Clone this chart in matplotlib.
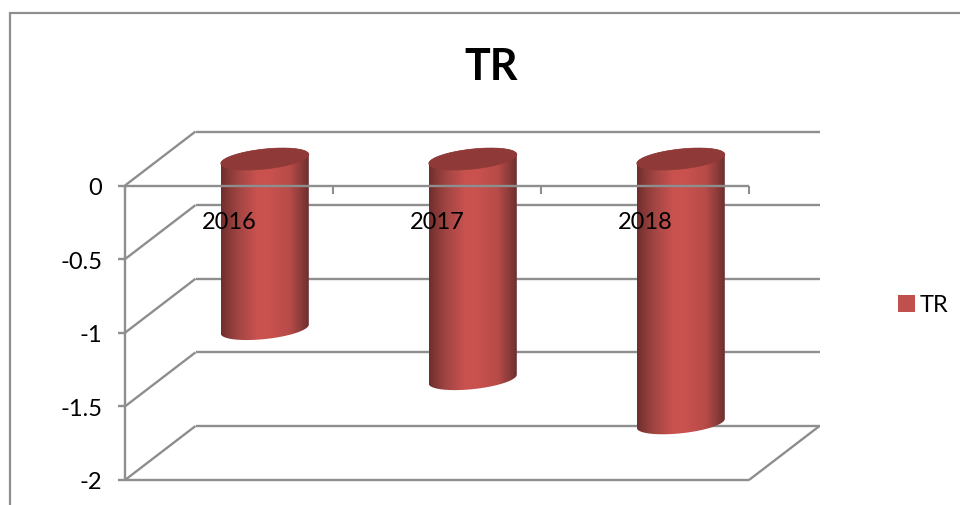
import numpy as np
import matplotlib
matplotlib.use("Agg")
import matplotlib.pyplot as plt
from matplotlib.colors import LinearSegmentedColormap
from matplotlib.patches import PathPatch, Patch
from matplotlib.path import Path
from matplotlib.transforms import Affine2D, IdentityTransform

years = ["2016", "2017", "2018"]
tr_values = [-1.155, -1.495, -1.795]
y_ticks = [0, -0.5, -1, -1.5, -2]
y_tick_labels = ["0", "-0.5", "-1", "-1.5", "-2"]
series_name = "TR"

W, H = 960, 506
GRID = "#8e8e8e"
plt.rcParams["font.family"] = ["Lato", "DejaVu Sans"]

fig = plt.figure(figsize=(W / 100, H / 100), dpi=100, facecolor="white")
L, R, T, B = 125, 749, 186.5, 481
ax = fig.add_axes([L / W, 1 - B / H, (R - L) / W, (B - T) / H])
ax.set_xlim(-0.5, 2.5)
ax.set_ylim(-2, 0)
ax.axis("off")

back = ax.transData + Affine2D().translate(70.5, 54)
mid = ax.transData + Affine2D().translate(35.8, 26.5)
ident = IdentityTransform()

# frame of the chart area
fig.add_artist(plt.Line2D([9.5 / W, 9.5 / W, 1], [0, 1 - 13.5 / H, 1 - 13.5 / H],
                          color=GRID, lw=1.6, solid_joinstyle="miter"))

kw = dict(color=GRID, lw=1.7, clip_on=False, solid_capstyle="butt")
for v in y_ticks:
    # back wall
    ax.plot([-0.5, 2.5], [v, v], transform=back, zorder=1, **kw)
    # side wall diagonal
    x0, y0 = ax.transData.transform((-0.5, v))
    ax.plot([x0, x0 + 70.5], [y0, y0 + 54], transform=ident, zorder=1, **kw)
    # left tick
    ax.plot([x0 - 7, x0], [y0, y0], transform=ident, zorder=1, **kw)

# floor
x1, y1 = ax.transData.transform((2.5, -2))
ax.plot([x1, x1 + 70.5], [y1, y1 + 54], transform=ident, zorder=1, **kw)
ax.plot([-0.5, 2.5], [-2, -2], zorder=1, **kw)
# vertical axis
ax.plot([-0.5, -0.5], [-2, 0], zorder=1, **kw)

# cylinders
stops = [(0, "#6e2e2c"), (0.08, "#853836"), (0.2, "#a34543"), (0.42, "#ca5350"),
         (0.55, "#c9524f"), (0.78, "#b84b48"), (0.92, "#8a3b39"), (1, "#6d2e2c")]
cmap = LinearSegmentedColormap.from_list("cyl", stops)
grad = np.linspace(0, 1, 256).reshape(1, -1)
half_w = 0.2115
a, b, s = 44, 10, 4.5


def ell(cx, cy, t):
    return np.c_[cx + a * np.cos(t), cy + b * np.sin(t) + s * np.cos(t)]


for i, v in enumerate(tr_values):
    cx, top = mid.transform((i, 0))
    _, bot = mid.transform((i, v))
    t_top = np.linspace(np.pi, 0, 60)
    t_bot = np.linspace(0, -np.pi, 60)
    body = np.r_[ell(cx, top, t_top), ell(cx, bot, t_bot)]
    path = Path(np.r_[body, body[:1]], closed=True)
    im = ax.imshow(grad, cmap=cmap, aspect="auto", zorder=2,
                   extent=(i - half_w, i + half_w, v - 0.2, 0.2),
                   transform=mid, interpolation="bilinear")
    im.set_clip_box(fig.bbox)
    im.set_clip_path(path, transform=ident)
    cap = Path(ell(cx, top, np.linspace(0, 2 * np.pi, 120)), closed=True)
    ax.add_patch(PathPatch(cap, transform=ident, facecolor="#8f3a38",
                           edgecolor="#8f3a38", lw=0.5, zorder=3, clip_on=False))

ax.set_xlim(-0.5, 2.5)
ax.set_ylim(-2, 0)

# front x axis line drawn over the cylinders
ax.plot([-0.5, 2.5], [0, 0], zorder=4, **kw)
for i in range(len(years) + 1):
    x0, y0 = ax.transData.transform((i - 0.5, 0))
    ax.plot([x0, x0], [y0, y0 - 8], transform=ident, zorder=4,
            color=GRID, lw=1.5, clip_on=False, solid_capstyle="butt")

for v, lab in zip(y_ticks, y_tick_labels):
    ax.annotate(lab, (-0.5, v), xytext=(-23, -2), textcoords="offset pixels",
                ha="right", va="center", fontsize=17, color="black", zorder=5,
                annotation_clip=False)
for i, lab in enumerate(years):
    ax.annotate(lab, (i, 0), xytext=(0, -36), textcoords="offset pixels",
                ha="center", va="center", fontsize=17, color="black", zorder=5,
                annotation_clip=False)

fig.text(491 / W, 1 - 67 / H, series_name, ha="center", va="center",
         fontsize=31, fontweight="bold", color="black")

fig.legend(handles=[Patch(facecolor="#c0504d", edgecolor="none", label=series_name)],
           loc="center left", bbox_to_anchor=(890.5 / W, 1 - 306 / H), frameon=False,
           fontsize=17, handlelength=0.72, handleheight=0.72, handletextpad=0.2,
           borderpad=0.3, borderaxespad=0)

fig.savefig("out.png", dpi=100, facecolor="white")
